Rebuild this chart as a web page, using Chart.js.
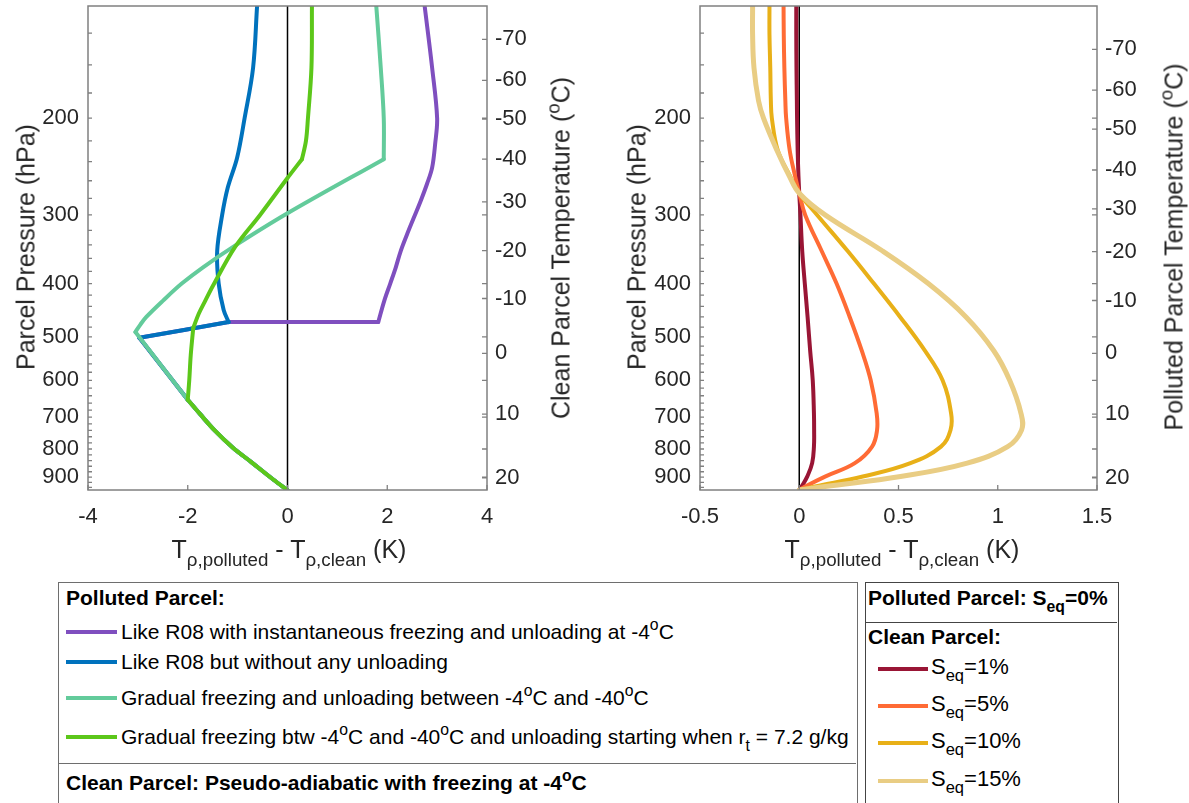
<!DOCTYPE html>
<html>
<head>
<meta charset="utf-8">
<script src="https://cdn.jsdelivr.net/npm/chart.js@4.4.0/dist/chart.umd.min.js"></script>
<style>
  body { margin: 0; background: #fff; width: 1189px; height: 803px; overflow: hidden; position: relative;
         font-family: "Liberation Sans", Arial, sans-serif; color: #262626; }
  canvas { position: absolute; top: 0; }
  .rot { position: absolute; transform: translate(-50%, -50%) rotate(-90deg); white-space: nowrap; font-size: 25px; }
  .xt { position: absolute; transform: translate(-50%, -50%); white-space: nowrap; font-size: 25px; }
  sub, sup { font-size: 0.75em; line-height: 0; position: relative; vertical-align: baseline; }
  sup { top: -0.55em; }
  sub { top: 0.45em; }
  .box { position: absolute; background: #fff; }
  .row { position: absolute; white-space: nowrap; font-size: 21px; line-height: 24px; color: #000; }
  .b { font-weight: bold; }
  .sw { position: absolute; height: 4px; }
</style>
</head>
<body>
<canvas id="left" width="595" height="575" style="left:0"></canvas>
<canvas id="right" width="589" height="575" style="left:600px"></canvas>

<div class="rot" style="left:26px; top:247px">Parcel Pressure (hPa)</div>
<div class="rot" style="left:561px; top:248px">Clean Parcel Temperature (<sup>o</sup>C)</div>
<div class="xt" style="left:289px; top:549px">T<sub>&rho;,polluted</sub> - T<sub>&rho;,clean</sub> (K)</div>

<div class="rot" style="left:637px; top:247px">Parcel Pressure (hPa)</div>
<div class="rot" style="left:1174px; top:247px">Polluted Parcel Temperature (<sup>o</sup>C)</div>
<div class="xt" style="left:902px; top:549px">T<sub>&rho;,polluted</sub> - T<sub>&rho;,clean</sub> (K)</div>

<div class="box" style="left:58px; top:582px; width:798px; height:240px; border:1.5px solid #6e6e6e"></div>
<div class="box" style="left:58px; top:763px; width:798px; height:0; border-top:1.5px solid #6e6e6e"></div>
<div class="row b" style="left:66px; top:586px">Polluted Parcel:</div>
<div class="sw" style="left:66px; top:630px; width:51px; background:#7f4fbf"></div>
<div class="row" style="left:121px; top:620px">Like R08 with instantaneous freezing and unloading at -4<sup>o</sup>C</div>
<div class="sw" style="left:66px; top:660px; width:51px; background:#0072bd"></div>
<div class="row" style="left:121px; top:650px">Like R08 but without any unloading</div>
<div class="sw" style="left:66px; top:696px; width:51px; background:#63cb9b"></div>
<div class="row" style="left:121px; top:686px">Gradual freezing and unloading between -4<sup>o</sup>C and -40<sup>o</sup>C</div>
<div class="sw" style="left:66px; top:735px; width:51px; background:#5cc71a"></div>
<div class="row" style="left:121px; top:725px">Gradual freezing btw -4<sup>o</sup>C and -40<sup>o</sup>C and unloading starting when r<sub>t</sub> = 7.2 g/kg</div>
<div class="row b" style="left:66px; top:771px">Clean Parcel: Pseudo-adiabatic with freezing at -4<sup>o</sup>C</div>

<div class="box" style="left:865px; top:582px; width:252px; height:240px; border:1.5px solid #444"></div>
<div class="box" style="left:865px; top:622px; width:252px; height:0; border-top:1.5px solid #444"></div>
<div class="row b" style="left:868px; top:586px">Polluted Parcel: S<sub>eq</sub>=0%</div>
<div class="row b" style="left:868px; top:625px">Clean Parcel:</div>
<div class="sw" style="left:878px; top:667px; width:50px; background:#991535"></div>
<div class="row" style="left:931px; top:655px; font-size:22px">S<sub>eq</sub>=1%</div>
<div class="sw" style="left:878px; top:704px; width:50px; background:#ff6b35"></div>
<div class="row" style="left:931px; top:692px; font-size:22px">S<sub>eq</sub>=5%</div>
<div class="sw" style="left:878px; top:741px; width:50px; background:#e8b018"></div>
<div class="row" style="left:931px; top:729px; font-size:22px">S<sub>eq</sub>=10%</div>
<div class="sw" style="left:878px; top:779px; width:50px; background:#e9cd84"></div>
<div class="row" style="left:931px; top:767px; font-size:22px">S<sub>eq</sub>=15%</div>

<script>
// pressure axis (hPa, log scale)
const presMin = 125;
const presMax = 950;
const presMajor = [200, 300, 400, 500, 600, 700, 800, 900];
const presMinor = [140, 160, 180, 220, 240, 260, 280, 320, 340, 360, 380, 420, 440, 460, 480,
                   520, 540, 560, 580, 620, 640, 660, 680, 720, 740, 760, 780, 820, 840, 860, 880, 920, 940];

// right hand temperature axes: pressure at which each label sits
const tempLabels = [-70, -60, -50, -40, -30, -20, -10, 0, 10, 20];
const cleanTempP = [143.8, 170.7, 200.8, 237.4, 284, 348.5, 425.8, 535.8, 691, 902.8];
const pollutedTempP = [149.9, 177.9, 209.4, 248.5, 292.4, 350, 429.4, 535.8, 691, 903];

const leftXTicks = [-4, -2, 0, 2, 4];
const rightXTicks = [-0.5, 0, 0.5, 1, 1.5];

const zeroX = [0, 0];
const zeroP = [presMin, presMax];

// left panel: polluted parcel scenarios, shared warm-phase part
const lowerP = [950, 910, 846, 795, 740, 690, 651];
const lowerT = [0, -0.28, -0.72, -1.1, -1.46, -1.76, -2.0];

const tealP = [490, 475, 460, 430, 400, 374, 343, 298, 237.5, 200, 162, 125];
const tealT = [-3.05, -2.95, -2.83, -2.5, -2.12, -1.7, -1.09, 0, 1.93, 1.93, 1.87, 1.78];

const blueP = [502, 470, 447, 400, 349, 300, 268, 236, 200, 162, 125];
const blueT = [-2.97, -1.18, -1.28, -1.38, -1.41, -1.31, -1.2, -1.01, -0.86, -0.69, -0.61];

const purpleP = [502, 470, 470, 430, 400, 374, 349, 325, 304, 283, 263, 246, 223, 200, 162, 125];
const purpleT = [-2.97, -1.18, 1.82, 1.94, 2.06, 2.17, 2.27, 2.4, 2.53, 2.67, 2.8, 2.9, 2.96, 3.0, 2.9, 2.75];

const greenP = [600, 540, 482, 454, 430, 400, 343, 300, 257, 237.5, 220, 200, 162, 125];
const greenT = [-1.97, -1.94, -1.89, -1.78, -1.65, -1.47, -1.05, -0.55, 0, 0.29, 0.37, 0.41, 0.48, 0.49];

// right panel: clean parcel S_eq runs
const seqP = [125, 141, 162, 186, 200, 229, 255, 274, 300, 349, 400, 460, 530, 600, 689, 739, 792, 849, 898, 936, 950];
const seq1 = [-0.015, -0.015, -0.014, -0.012, -0.011, -0.008, -0.004, 0, 0.006, 0.015, 0.028, 0.042, 0.055, 0.068, 0.074, 0.075, 0.074, 0.065, 0.04, 0.012, 0];
const seq5 = [-0.079, -0.078, -0.075, -0.07, -0.066, -0.048, -0.021, 0, 0.03, 0.113, 0.188, 0.254, 0.315, 0.36, 0.39, 0.392, 0.367, 0.28, 0.13, 0.03, 0];
const seq10 = [-0.15, -0.15, -0.146, -0.143, -0.138, -0.108, -0.046, 0, 0.09, 0.244, 0.376, 0.508, 0.633, 0.722, 0.765, 0.762, 0.714, 0.56, 0.32, 0.08, 0];
const seq15 = [-0.235, -0.235, -0.228, -0.205, -0.18, -0.112, -0.05, 0, 0.13, 0.42, 0.65, 0.84, 0.98, 1.06, 1.117, 1.12, 1.05, 0.846, 0.51, 0.13, 0];

function pts(T, P) {
  return T.map((t, i) => ({ x: t, y: P[i] }));
}

// split a curve at its kinks so each smooth piece gets its own spline
function pieces(T, P, breaks) {
  const out = [];
  let start = 0;
  breaks.concat([P.length - 1]).forEach(b => {
    if (b > start) out.push(pts(T.slice(start, b + 1), P.slice(start, b + 1)));
    start = b;
  });
  return out;
}

function lineSet(data, color, width, order, tension) {
  return {
    data: data, borderColor: color, borderWidth: width, order: order,
    showLine: true, pointRadius: 0, tension: tension, fill: false,
    borderCapStyle: 'round', borderJoinStyle: 'round'
  };
}

const L = lowerP.length - 1;
const leftSets = [lineSet(pts(zeroX, zeroP), '#000', 1.5, 9, 0)];
pieces(lowerT.concat(purpleT), lowerP.concat(purpleP), [L, L + 1, L + 2, L + 3])
  .forEach(d => leftSets.push(lineSet(d, '#7f4fbf', 4, 3, 0.35)));
pieces(lowerT.concat(blueT), lowerP.concat(blueP), [L, L + 1, L + 2])
  .forEach(d => leftSets.push(lineSet(d, '#0072bd', 4, 2, 0.35)));
pieces(lowerT.concat(tealT), lowerP.concat(tealP), [L, L + 1, L + 9])
  .forEach(d => leftSets.push(lineSet(d, '#63cb9b', 4, 1, 0.35)));
pieces(lowerT.concat(greenT), lowerP.concat(greenP), [L, L + 3, L + 10])
  .forEach(d => leftSets.push(lineSet(d, '#5cc71a', 4, 0, 0.35)));

const rightSets = [
  lineSet(pts(zeroX, zeroP), '#000', 1.5, 9, 0),
  lineSet(pts(seq1, seqP), '#991535', 4, 3, 0.4),
  lineSet(pts(seq5, seqP), '#ff6b35', 4, 2, 0.4),
  lineSet(pts(seq10, seqP), '#e8b018', 4, 1, 0.4),
  lineSet(pts(seq15, seqP), '#e9cd84', 5, 0, 0.4)
];

const frame = {
  id: 'frame',
  afterDraw(chart, args, opts) {
    const { ctx, chartArea: a, scales } = chart;
    ctx.save();
    ctx.strokeStyle = '#808080';
    ctx.lineWidth = 1.3;
    ctx.beginPath();
    presMinor.concat(presMajor).forEach(p => {
      const y = scales.y.getPixelForValue(p);
      ctx.moveTo(a.left, y); ctx.lineTo(a.left + 4, y);
    });
    presMajor.concat(opts.tempP).forEach(p => {
      const y = scales.y.getPixelForValue(p);
      ctx.moveTo(a.right, y); ctx.lineTo(a.right - 5, y);
    });
    opts.xTicks.forEach(v => {
      const x = scales.x.getPixelForValue(v);
      ctx.moveTo(x, a.bottom); ctx.lineTo(x, a.bottom - 5);
    });
    ctx.stroke();
    ctx.lineWidth = 1.5;
    ctx.strokeRect(a.left, a.top, a.right - a.left, a.bottom - a.top);
    ctx.restore();
  }
};

function panel(id, sets, xMin, xMax, xTicks, tempP, leftW, rightW) {
  const tickFont = { family: '"Liberation Sans", Arial, sans-serif', size: 22 };
  const noGrid = { display: false, drawTicks: false };
  return new Chart(document.getElementById(id), {
    type: 'scatter',
    data: { datasets: sets },
    plugins: [frame],
    options: {
      responsive: false,
      animation: false,
      layout: { padding: { top: 6, left: 0, right: 0, bottom: 0 } },
      plugins: { legend: { display: false }, tooltip: { enabled: false }, frame: { tempP: tempP, xTicks: xTicks } },
      scales: {
        x: {
          type: 'linear', min: xMin, max: xMax,
          grid: noGrid, border: { display: false },
          afterBuildTicks: s => { s.ticks = xTicks.map(v => ({ value: v })); },
          ticks: { font: tickFont, color: '#262626', padding: 14, autoSkip: false, maxRotation: 0, callback: v => String(v) },
          afterFit: s => { s.height = 85; s.paddingLeft = 0; s.paddingRight = 0; }
        },
        y: {
          type: 'logarithmic', position: 'left', min: presMin, max: presMax, reverse: true,
          grid: noGrid, border: { display: false },
          afterBuildTicks: s => { s.ticks = presMajor.map(v => ({ value: v })); },
          ticks: { font: tickFont, color: '#262626', padding: 9, autoSkip: false, callback: v => String(v) },
          afterFit: s => { s.width = leftW; s.paddingTop = 0; s.paddingBottom = 0; }
        },
        y2: {
          type: 'logarithmic', position: 'right', min: presMin, max: presMax, reverse: true,
          grid: noGrid, border: { display: false },
          afterBuildTicks: s => { s.ticks = tempP.map(v => ({ value: v })); },
          ticks: { font: tickFont, color: '#262626', padding: 8, autoSkip: false, callback: (v, i) => String(tempLabels[i]) },
          afterFit: s => { s.width = rightW; s.paddingTop = 0; s.paddingBottom = 0; }
        }
      }
    }
  });
}

panel('left', leftSets, -4, 4, leftXTicks, cleanTempP, 88, 108);
panel('right', rightSets, -0.5, 1.5, rightXTicks, pollutedTempP, 100, 92);
</script>
</body>
</html>
